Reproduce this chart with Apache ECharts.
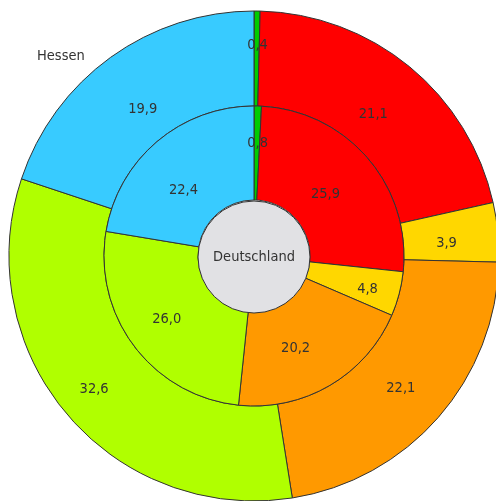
<!DOCTYPE html>
<html>
<head>
<meta charset="utf-8">
<script src="https://cdn.jsdelivr.net/npm/echarts@6/dist/echarts.min.js"></script>
<style>
  html, body { margin: 0; padding: 0; background: #fff; }
  #chart { width: 496px; height: 501px; }
</style>
</head>
<body>
<div id="chart"></div>
<script>
// Shares in percent, clockwise from 12 o'clock
const segmentKeys = ['a', 'b', 'c', 'd', 'e', 'f'];
const hessenValues = [0.4, 21.1, 3.9, 22.1, 32.6, 19.9];
const deutschlandValues = [0.8, 25.9, 4.8, 20.2, 26.0, 22.4];
const segmentColors = ['#00cc00', '#ff0000', '#ffd700', '#ff9900', '#b0ff00', '#38cbff'];

const outerTitle = 'Hessen';
const centerTitle = 'Deutschland';

// small nudges of the value labels away from the ring's mid-radius
const hessenLabelNudge = [[1, -10], [-8, 13], [-7, 7], [-4, 0], [-7, 3], [6, 16]];
const deutschlandLabelNudge = [[1, -7], [-9, 7], [11, 6], [-12, 1], [-3, -1], [-2, 15]];

const FONT = '"DejaVu Sans Condensed", sans-serif';
const FONT_SIZE = 14.5;
const fmt = v => v.toFixed(1).replace('.', ',');

function ringData(values, nudges) {
  return values.map((v, i) => ({
    name: segmentKeys[i],
    value: v,
    itemStyle: { color: segmentColors[i] },
    label: { offset: nudges[i] }
  }));
}

const ringItemStyle = { borderColor: '#333', borderWidth: 1 };
const ringLabel = {
  show: true,
  position: 'inside',
  formatter: p => fmt(p.value),
  color: '#333',
  fontFamily: FONT,
  fontSize: FONT_SIZE
};

const chart = echarts.init(document.getElementById('chart'), null, { renderer: 'canvas' });
chart.setOption({
  animation: false,
  title: {
    text: outerTitle,
    left: 32,
    top: 44,
    textStyle: { fontFamily: FONT, fontSize: FONT_SIZE, fontWeight: 'normal', color: '#333' }
  },
  series: [
    {
      type: 'pie',
      center: [254, 256],
      radius: [150, 245],
      startAngle: 90,
      clockwise: true,
      silent: true,
      itemStyle: ringItemStyle,
      label: ringLabel,
      labelLine: { show: false },
      data: ringData(hessenValues, hessenLabelNudge)
    },
    {
      type: 'pie',
      center: [254, 256],
      radius: [56, 150],
      startAngle: 90,
      clockwise: true,
      silent: true,
      itemStyle: ringItemStyle,
      label: ringLabel,
      labelLine: { show: false },
      data: ringData(deutschlandValues, deutschlandLabelNudge)
    },
    {
      type: 'pie',
      center: [254, 257],
      radius: [0, 56],
      silent: true,
      itemStyle: { color: '#e1e1e4', borderColor: '#333', borderWidth: 1 },
      label: {
        show: true,
        position: 'center',
        formatter: centerTitle,
        color: '#333',
        fontFamily: FONT,
        fontSize: FONT_SIZE
      },
      labelLine: { show: false },
      data: [{ name: centerTitle, value: 1 }]
    }
  ]
});
</script>
</body>
</html>
